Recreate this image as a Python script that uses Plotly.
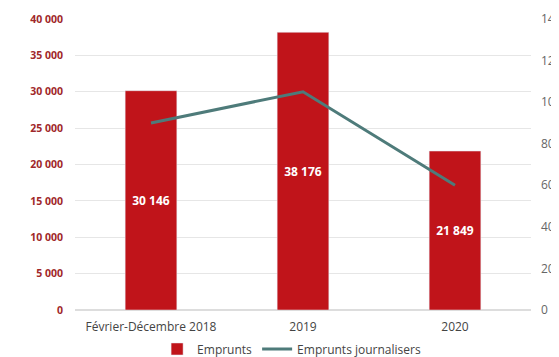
import plotly.graph_objects as go

categories = ["Février-Décembre 2018", "2019", "2020"]
emprunts = [30146, 38176, 21849]
emprunts_journaliers = [90, 105, 60]
left_ticks = [0, 5000, 10000, 15000, 20000, 25000, 30000, 35000, 40000]
right_ticks = [0, 20, 40, 60, 80, 100, 120, 140]

font_family = "Open Sans, Liberation Sans, sans-serif"

fig = go.Figure()
fig.add_trace(go.Bar(
    x=categories, y=emprunts, name="Emprunts",
    marker=dict(color="#C0141A"),
    width=0.34,
    texttemplate="%{y:,d}", textposition="inside", insidetextanchor="middle",
    textfont=dict(color="white", size=12, family=font_family, weight="bold"),
    yaxis="y",
))
fig.add_trace(go.Scatter(
    x=categories, y=emprunts_journaliers, name="Emprunts journalisers",
    mode="lines", line=dict(color="#4E7B7A", width=3),
    yaxis="y2",
))

fig.update_layout(
    width=559, height=349,
    margin=dict(l=67, r=36, t=11, b=47, autoexpand=False),
    paper_bgcolor="white", plot_bgcolor="white",
    separators=", ",
    font=dict(family=font_family, size=11, color="#555555"),
    showlegend=True,
    legend=dict(orientation="h", x=0.475, xanchor="center", xref="paper",
                y=0.023, yanchor="middle", yref="container",
                font=dict(size=12, color="#444444"), traceorder="normal",
                itemwidth=30, tracegroupgap=0),
    xaxis=dict(showgrid=False, showline=False, ticks="", automargin=False,
               tickfont=dict(size=12, color="#444444"),
               ticklabelstandoff=8),
    yaxis=dict(range=[0, 40000], tickvals=left_ticks, tickformat=",d",
               showgrid=True, gridcolor="#E6E6E6", gridwidth=1,
               zeroline=True, zerolinecolor="#DDDDDD", automargin=False,
               tickfont=dict(size=10.5, color="#A0282A", weight="bold"),
               ticklabelstandoff=11),
    yaxis2=dict(range=[0, 140], tickvals=right_ticks, overlaying="y", side="right",
                showgrid=False, zeroline=False, automargin=False,
                tickfont=dict(size=12, color="#666666"),
                ticklabelstandoff=9),
    bargap=0.66,
)

fig.write_html(
    "out.html",
    config={"displayModeBar": False},
    post_script="document.body.style.overflow='hidden';",
)
